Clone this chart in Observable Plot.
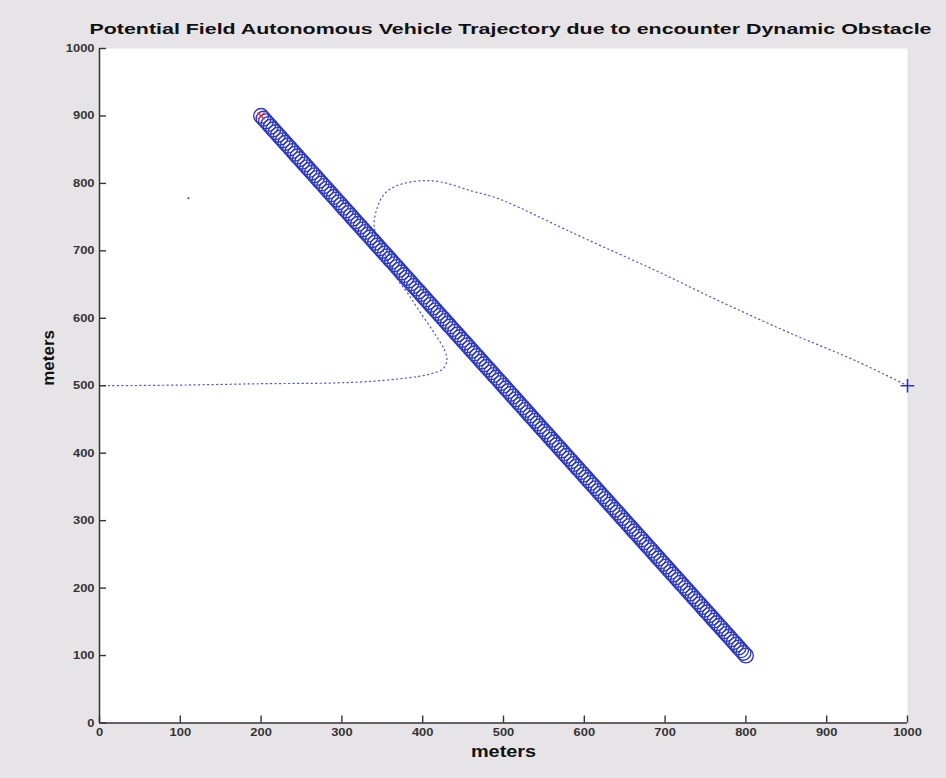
<!DOCTYPE html>
<html><head><meta charset="utf-8">
<script src="https://cdn.jsdelivr.net/npm/d3@7"></script>
<script src="https://cdn.jsdelivr.net/npm/@observablehq/plot@0.6"></script>
<style>
html,body{margin:0;padding:0;background:#e7e4e7;overflow:hidden;}
#chart{width:946px;height:778px;}
</style></head><body><div id="chart"></div>
<script>
const titleText = "Potential Field Autonomous Vehicle Trajectory due to encounter Dynamic Obstacle";
const xLabelText = "meters";
const yLabelText = "meters";
const xTicks = [0,100,200,300,400,500,600,700,800,900,1000];
const yTicks = [0,100,200,300,400,500,600,700,800,900,1000];

// dynamic obstacle positions (circles)
const obstacleX = [200,203,206,209,212,215,218,221,224,227,230,233,236,239,242,245,248,251,254,257,260,263,266,269,272,275,278,281,284,287,290,293,296,299,302,305,308,311,314,317,320,323,326,329,332,335,338,341,344,347,350,353,356,359,362,365,368,371,374,377,380,383,386,389,392,395,398,401,404,407,410,413,416,419,422,425,428,431,434,437,440,443,446,449,452,455,458,461,464,467,470,473,476,479,482,485,488,491,494,497,500,503,506,509,512,515,518,521,524,527,530,533,536,539,542,545,548,551,554,557,560,563,566,569,572,575,578,581,584,587,590,593,596,599,602,605,608,611,614,617,620,623,626,629,632,635,638,641,644,647,650,653,656,659,662,665,668,671,674,677,680,683,686,689,692,695,698,701,704,707,710,713,716,719,722,725,728,731,734,737,740,743,746,749,752,755,758,761,764,767,770,773,776,779,782,785,788,791,794,797,800];
const obstacleY = [900,896,892,888,884,880,876,872,868,864,860,856,852,848,844,840,836,832,828,824,820,816,812,808,804,800,796,792,788,784,780,776,772,768,764,760,756,752,748,744,740,736,732,728,724,720,716,712,708,704,700,696,692,688,684,680,676,672,668,664,660,656,652,648,644,640,636,632,628,624,620,616,612,608,604,600,596,592,588,584,580,576,572,568,564,560,556,552,548,544,540,536,532,528,524,520,516,512,508,504,500,496,492,488,484,480,476,472,468,464,460,456,452,448,444,440,436,432,428,424,420,416,412,408,404,400,396,392,388,384,380,376,372,368,364,360,356,352,348,344,340,336,332,328,324,320,316,312,308,304,300,296,292,288,284,280,276,272,268,264,260,256,252,248,244,240,236,232,228,224,220,216,212,208,204,200,196,192,188,184,180,176,172,168,164,160,156,152,148,144,140,136,132,128,124,120,116,112,108,104,100];

// vehicle trajectory (dotted)
const vehicleX = [0,100,200,287,330,369,395,411,425,430,427,415,398,382,367,352,340,344,353,369,398,423,460,490,520,555,605,688,770,853,936,1000];
const vehicleY = [500,501,503,504,506,510,514,518,525,538,553,577,607,636,661,698,735,765,785,797,804,802,789,779,764,744,716,671,624,579,537,500];

const startX = [200], startY = [900];
const goalX = [1000], goalY = [500];
const strayX = [110], strayY = [778];

const n = Math.min(obstacleX.length, obstacleY.length);
const obstacle = obstacleX.slice(0, n).map((x, i) => ({x, y: obstacleY[i]}));
const vehicle = vehicleX.map((x, i) => ({x, y: vehicleY[i]}));
const start = startX.map((x, i) => ({x, y: startY[i]}));
const goal = goalX.map((x, i) => ({x, y: goalY[i]}));
const stray = strayX.map((x, i) => ({x, y: strayY[i]}));

const ink = "#333";
const font = "'Liberation Sans', Arial, sans-serif";
const tickLen = 7;

const chart = Plot.plot({
  width: 946, height: 778,
  marginLeft: 99, marginRight: 39, marginTop: 48, marginBottom: 55.5,
  x: {type: "linear", domain: [0, 1000], axis: null},
  y: {type: "linear", domain: [0, 1000], axis: null},
  style: {background: "#e7e4e7", fontFamily: font},
  marks: [
    Plot.frame({fill: "white", stroke: null}),
    Plot.line(vehicle, {x: "x", y: "y", stroke: "#4b55d4", strokeWidth: 1.2, strokeDasharray: "1.2,3.3", curve: "catmull-rom"}),
    Plot.dot(obstacle, {x: "x", y: "y", r: 7.4, stroke: "#2c38c0", strokeWidth: 1.35}),
    Plot.dot(start, {x: "x", y: "y", symbol: "times", r: 3.2, stroke: "#d6204e", strokeWidth: 1.3}),
    Plot.dot(goal, {x: "x", y: "y", symbol: "plus", r: 4.5, stroke: "#2a36b8", strokeWidth: 1.6}),
    Plot.dot(stray, {x: "x", y: "y", r: 1, fill: "#444", stroke: null}),
    // inward-pointing ticks
    Plot.ruleX(xTicks, {x: d => d, y1: () => 0, y2: () => 0, insetTop: -tickLen, stroke: ink, strokeWidth: 1.4}),
    Plot.ruleY(yTicks, {y: d => d, x1: () => 0, x2: () => 0, insetRight: -tickLen, stroke: ink, strokeWidth: 1.4}),
    Plot.ruleX([0], {stroke: ink, strokeWidth: 1.5}),
    Plot.ruleY([0], {stroke: ink, strokeWidth: 1.5}),
    Plot.axisX(xTicks, {tickSize: 0, tickPadding: 5.5, tickFormat: d => String(d), fontSize: 11, fontWeight: "bold", color: ink, label: null}),
    Plot.axisY(yTicks, {tickSize: 0, tickPadding: 5, tickFormat: d => String(d), fontSize: 11, fontWeight: "bold", color: ink, label: null}),
    Plot.text([titleText], {frameAnchor: "top", dy: -15, dx: 7, lineAnchor: "bottom", fontSize: 15.5, fontWeight: "bold", fill: "#111"}),
    Plot.text([xLabelText], {frameAnchor: "bottom", dy: 34, lineAnchor: "bottom", fontSize: 17, fontWeight: "bold", fill: "#111"}),
    Plot.text([yLabelText], {frameAnchor: "left", dx: -46, rotate: -90, lineAnchor: "bottom", fontSize: 17, fontWeight: "bold", fill: "#111"})
  ]
});
document.getElementById("chart").append(chart);

// the scanned original is stretched horizontally; widen horizontal text to match
chart.querySelectorAll("text").forEach(t => {
  const tr = t.getAttribute("transform") || "";
  const ptr = (t.parentNode && t.parentNode.getAttribute && t.parentNode.getAttribute("transform")) || "";
  if (tr.includes("rotate") || ptr.includes("rotate")) return;
  const len = t.getComputedTextLength();
  if (!len) return;
  const target = t.textContent === titleText ? 842 : len * 1.17;
  t.setAttribute("textLength", target);
  t.setAttribute("lengthAdjust", "spacingAndGlyphs");
});
</script></body></html>
